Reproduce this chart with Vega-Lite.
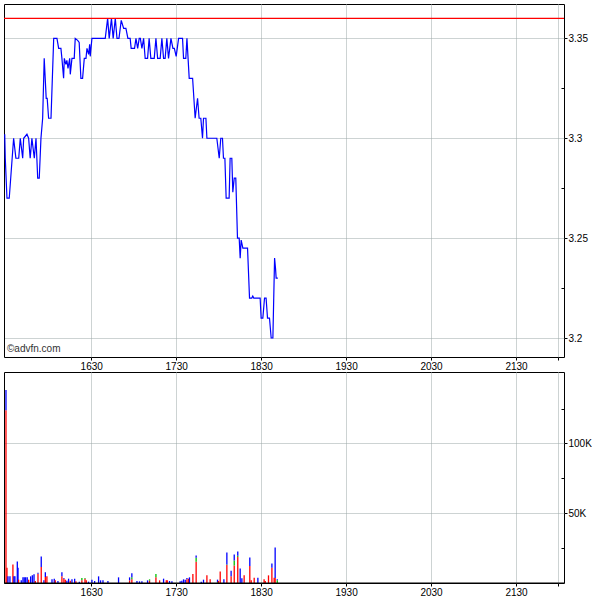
{
  "$schema": "https://vega.github.io/schema/vega-lite/v6.json",
  "background": "white",
  "padding": {"left": 2, "top": 3, "right": 0, "bottom": 0},
  "bounds": "flush",
  "spacing": 15,
  "config": {
    "font": "Liberation Sans",
    "view": {"stroke": "black", "strokeWidth": 1},
    "axis": {
      "labelFont": "Liberation Sans",
      "labelFontSize": 10,
      "labelColor": "black",
      "tickColor": "black",
      "tickSize": 3,
      "labelPadding": 1,
      "domain": false,
      "gridColor": "#9aa6a6",
      "gridDash": [1, 1],
      "gridOpacity": 1,
      "title": null
    }
  },
  "datasets": {
    "price": [
      {"t": 928.9, "p": 3.302}, {"t": 929.3, "p": 3.29}, {"t": 930.5, "p": 3.27}, {"t": 932.1, "p": 3.27},
      {"t": 935.2, "p": 3.30}, {"t": 936.8, "p": 3.29}, {"t": 938.8, "p": 3.29}, {"t": 939.9, "p": 3.30},
      {"t": 941.6, "p": 3.29}, {"t": 942.3, "p": 3.30}, {"t": 944.6, "p": 3.302}, {"t": 945.8, "p": 3.30},
      {"t": 946.9, "p": 3.29}, {"t": 948.1, "p": 3.30}, {"t": 949.8, "p": 3.29}, {"t": 951.0, "p": 3.30},
      {"t": 952.2, "p": 3.28}, {"t": 953.3, "p": 3.28}, {"t": 954.5, "p": 3.30}, {"t": 955.7, "p": 3.31},
      {"t": 956.8, "p": 3.34}, {"t": 958.2, "p": 3.32}, {"t": 958.9, "p": 3.32}, {"t": 959.9, "p": 3.31},
      {"t": 961.6, "p": 3.31}, {"t": 963.5, "p": 3.35}, {"t": 965.8, "p": 3.35}, {"t": 967.0, "p": 3.345},
      {"t": 968.6, "p": 3.345}, {"t": 969.3, "p": 3.34}, {"t": 970.5, "p": 3.33}, {"t": 971.0, "p": 3.34},
      {"t": 972.1, "p": 3.337}, {"t": 972.8, "p": 3.339}, {"t": 973.6, "p": 3.335}, {"t": 974.8, "p": 3.34},
      {"t": 975.2, "p": 3.332}, {"t": 976.4, "p": 3.34}, {"t": 978.0, "p": 3.34}, {"t": 978.7, "p": 3.35},
      {"t": 980.4, "p": 3.349}, {"t": 981.5, "p": 3.348}, {"t": 982.7, "p": 3.33}, {"t": 983.9, "p": 3.33},
      {"t": 985.1, "p": 3.34}, {"t": 986.3, "p": 3.34}, {"t": 987.0, "p": 3.345}, {"t": 988.2, "p": 3.342},
      {"t": 988.9, "p": 3.347}, {"t": 989.3, "p": 3.341}, {"t": 990.5, "p": 3.35}, {"t": 999.9, "p": 3.35},
      {"t": 1001.6, "p": 3.36}, {"t": 1002.7, "p": 3.35}, {"t": 1004.3, "p": 3.36}, {"t": 1005.5, "p": 3.35},
      {"t": 1007.0, "p": 3.36}, {"t": 1008.2, "p": 3.35}, {"t": 1009.6, "p": 3.35}, {"t": 1011.2, "p": 3.359},
      {"t": 1012.9, "p": 3.355}, {"t": 1014.5, "p": 3.355}, {"t": 1015.9, "p": 3.35}, {"t": 1017.5, "p": 3.35},
      {"t": 1018.2, "p": 3.345}, {"t": 1020.6, "p": 3.345}, {"t": 1021.6, "p": 3.35}, {"t": 1022.8, "p": 3.345},
      {"t": 1023.9, "p": 3.35}, {"t": 1024.7, "p": 3.35}, {"t": 1025.8, "p": 3.345}, {"t": 1027.0, "p": 3.35},
      {"t": 1028.1, "p": 3.34}, {"t": 1029.8, "p": 3.34}, {"t": 1030.9, "p": 3.35}, {"t": 1032.1, "p": 3.34},
      {"t": 1034.5, "p": 3.34}, {"t": 1035.7, "p": 3.35}, {"t": 1036.9, "p": 3.34}, {"t": 1038.7, "p": 3.34},
      {"t": 1039.9, "p": 3.35}, {"t": 1041.1, "p": 3.34}, {"t": 1042.2, "p": 3.34}, {"t": 1043.4, "p": 3.35},
      {"t": 1044.6, "p": 3.34}, {"t": 1046.3, "p": 3.35}, {"t": 1047.7, "p": 3.345}, {"t": 1048.7, "p": 3.345},
      {"t": 1050.0, "p": 3.341}, {"t": 1051.7, "p": 3.35}, {"t": 1054.5, "p": 3.35}, {"t": 1055.2, "p": 3.34},
      {"t": 1056.8, "p": 3.34}, {"t": 1057.6, "p": 3.35}, {"t": 1059.2, "p": 3.33}, {"t": 1061.6, "p": 3.33},
      {"t": 1063.4, "p": 3.31}, {"t": 1065.1, "p": 3.32}, {"t": 1066.2, "p": 3.31}, {"t": 1067.4, "p": 3.31},
      {"t": 1068.6, "p": 3.30}, {"t": 1069.3, "p": 3.31}, {"t": 1071.0, "p": 3.31}, {"t": 1071.7, "p": 3.30},
      {"t": 1078.7, "p": 3.30}, {"t": 1080.4, "p": 3.29}, {"t": 1081.5, "p": 3.30}, {"t": 1082.7, "p": 3.30},
      {"t": 1083.4, "p": 3.29}, {"t": 1084.4, "p": 3.29}, {"t": 1085.3, "p": 3.27}, {"t": 1087.4, "p": 3.27},
      {"t": 1088.1, "p": 3.29}, {"t": 1089.3, "p": 3.29}, {"t": 1090.0, "p": 3.273}, {"t": 1091.0, "p": 3.28},
      {"t": 1092.1, "p": 3.28}, {"t": 1093.3, "p": 3.25}, {"t": 1094.5, "p": 3.25}, {"t": 1095.2, "p": 3.24},
      {"t": 1095.9, "p": 3.249}, {"t": 1097.1, "p": 3.245}, {"t": 1100.4, "p": 3.245}, {"t": 1101.8, "p": 3.22},
      {"t": 1103.4, "p": 3.22}, {"t": 1104.1, "p": 3.221}, {"t": 1104.8, "p": 3.22}, {"t": 1109.3, "p": 3.22},
      {"t": 1110.0, "p": 3.21}, {"t": 1111.2, "p": 3.21}, {"t": 1112.4, "p": 3.22}, {"t": 1113.5, "p": 3.22},
      {"t": 1114.5, "p": 3.21}, {"t": 1115.9, "p": 3.21}, {"t": 1117.1, "p": 3.20}, {"t": 1118.3, "p": 3.20},
      {"t": 1119.5, "p": 3.24}, {"t": 1120.2, "p": 3.2345}, {"t": 1120.6, "p": 3.23}, {"t": 1121.8, "p": 3.23}
    ],
    "volume": [
      {"t": 929.8, "dir": "sell", "v": 123800}, {"t": 929.8, "dir": "buy", "v": 14500},
      {"t": 930.5, "dir": "sell", "v": 10950},
      {"t": 931.2, "dir": "buy", "v": 4760},
      {"t": 932.6, "dir": "buy", "v": 4760},
      {"t": 934.7, "dir": "sell", "v": 13330},
      {"t": 935.4, "dir": "buy", "v": 4760},
      {"t": 936.1, "dir": "buy", "v": 4760},
      {"t": 937.8, "dir": "buy", "v": 15480},
      {"t": 938.3, "dir": "buy", "v": 10950},
      {"t": 938.7, "dir": "sell", "v": 2380},
      {"t": 940.6, "dir": "buy", "v": 1900},
      {"t": 941.8, "dir": "buy", "v": 4050},
      {"t": 942.7, "dir": "buy", "v": 4050},
      {"t": 943.7, "dir": "buy", "v": 4050},
      {"t": 944.8, "dir": "buy", "v": 4050},
      {"t": 945.8, "dir": "sell", "v": 2380},
      {"t": 947.2, "dir": "buy", "v": 4760},
      {"t": 948.4, "dir": "buy", "v": 5480},
      {"t": 949.6, "dir": "buy", "v": 6190},
      {"t": 950.5, "dir": "sell", "v": 1430},
      {"t": 952.4, "dir": "sell", "v": 6670}, {"t": 952.4, "dir": "buy", "v": 710},
      {"t": 954.7, "dir": "sell", "v": 11430}, {"t": 954.7, "dir": "buy", "v": 7620},
      {"t": 956.6, "dir": "buy", "v": 1900},
      {"t": 957.6, "dir": "sell", "v": 4290}, {"t": 957.6, "dir": "buy", "v": 3330},
      {"t": 958.7, "dir": "sell", "v": 4760},
      {"t": 962.3, "dir": "buy", "v": 2620},
      {"t": 963.9, "dir": "buy", "v": 3100},
      {"t": 964.6, "dir": "sell", "v": 1900},
      {"t": 966.5, "dir": "buy", "v": 1430},
      {"t": 969.3, "dir": "sell", "v": 4760}, {"t": 969.3, "dir": "buy", "v": 2860},
      {"t": 970.7, "dir": "sell", "v": 3100}, {"t": 970.7, "dir": "buy", "v": 480},
      {"t": 971.7, "dir": "sell", "v": 2380},
      {"t": 972.8, "dir": "buy", "v": 1670},
      {"t": 974.0, "dir": "buy", "v": 3100},
      {"t": 975.2, "dir": "sell", "v": 1670},
      {"t": 976.4, "dir": "buy", "v": 2620},
      {"t": 978.3, "dir": "buy", "v": 3100},
      {"t": 979.2, "dir": "sell", "v": 1190},
      {"t": 981.6, "dir": "buy", "v": 950},
      {"t": 983.4, "dir": "sell", "v": 1900}, {"t": 983.4, "dir": "neutral", "v": 1670},
      {"t": 985.6, "dir": "sell", "v": 3100}, {"t": 985.6, "dir": "neutral", "v": 500},
      {"t": 986.5, "dir": "sell", "v": 1900},
      {"t": 988.1, "dir": "buy", "v": 950},
      {"t": 990.5, "dir": "buy", "v": 2380},
      {"t": 992.4, "dir": "buy", "v": 1430},
      {"t": 995.2, "dir": "buy", "v": 4760},
      {"t": 996.6, "dir": "buy", "v": 1900},
      {"t": 998.3, "dir": "buy", "v": 1900},
      {"t": 1001.8, "dir": "buy", "v": 1430},
      {"t": 1009.3, "dir": "buy", "v": 4050},
      {"t": 1017.1, "dir": "sell", "v": 1900}, {"t": 1017.1, "dir": "buy", "v": 2140},
      {"t": 1018.7, "dir": "sell", "v": 2620}, {"t": 1018.7, "dir": "neutral", "v": 1430}, {"t": 1018.7, "dir": "buy", "v": 2860},
      {"t": 1022.3, "dir": "buy", "v": 1430},
      {"t": 1024.1, "dir": "buy", "v": 1190},
      {"t": 1025.8, "dir": "buy", "v": 1190},
      {"t": 1029.8, "dir": "buy", "v": 1900},
      {"t": 1031.2, "dir": "sell", "v": 1670}, {"t": 1031.2, "dir": "neutral", "v": 950},
      {"t": 1035.7, "dir": "sell", "v": 4050}, {"t": 1035.7, "dir": "neutral", "v": 2380},
      {"t": 1038.3, "dir": "sell", "v": 1900},
      {"t": 1041.1, "dir": "buy", "v": 3100},
      {"t": 1043.0, "dir": "sell", "v": 1900},
      {"t": 1043.7, "dir": "sell", "v": 1900},
      {"t": 1045.3, "dir": "buy", "v": 1430},
      {"t": 1047.0, "dir": "buy", "v": 1190},
      {"t": 1052.8, "dir": "buy", "v": 1190},
      {"t": 1054.0, "dir": "buy", "v": 1670},
      {"t": 1055.2, "dir": "buy", "v": 2620},
      {"t": 1056.4, "dir": "buy", "v": 2380},
      {"t": 1057.6, "dir": "sell", "v": 2620}, {"t": 1057.6, "dir": "buy", "v": 950},
      {"t": 1058.7, "dir": "sell", "v": 3100},
      {"t": 1059.4, "dir": "buy", "v": 4050},
      {"t": 1061.8, "dir": "sell", "v": 6430},
      {"t": 1064.1, "dir": "sell", "v": 15240}, {"t": 1064.1, "dir": "neutral", "v": 2860}, {"t": 1064.1, "dir": "buy", "v": 1670},
      {"t": 1067.7, "dir": "buy", "v": 950},
      {"t": 1069.3, "dir": "buy", "v": 2380},
      {"t": 1071.7, "dir": "sell", "v": 5480},
      {"t": 1074.0, "dir": "sell", "v": 2620},
      {"t": 1079.2, "dir": "buy", "v": 1900}, {"t": 1079.2, "dir": "neutral", "v": 500},
      {"t": 1079.9, "dir": "sell", "v": 1430},
      {"t": 1081.1, "dir": "sell", "v": 8330},
      {"t": 1083.7, "dir": "buy", "v": 2620},
      {"t": 1085.8, "dir": "sell", "v": 12860}, {"t": 1085.8, "dir": "neutral", "v": 480}, {"t": 1085.8, "dir": "buy", "v": 8570},
      {"t": 1088.8, "dir": "sell", "v": 4760}, {"t": 1088.8, "dir": "buy", "v": 4050},
      {"t": 1091.0, "dir": "sell", "v": 12620}, {"t": 1091.0, "dir": "neutral", "v": 3570}, {"t": 1091.0, "dir": "buy", "v": 4290},
      {"t": 1093.5, "dir": "sell", "v": 18570}, {"t": 1093.5, "dir": "neutral", "v": 950}, {"t": 1093.5, "dir": "buy", "v": 3100},
      {"t": 1095.2, "dir": "buy", "v": 10480},
      {"t": 1096.4, "dir": "buy", "v": 3330},
      {"t": 1098.0, "dir": "sell", "v": 5480},
      {"t": 1102.0, "dir": "sell", "v": 12140}, {"t": 1102.0, "dir": "buy", "v": 6190},
      {"t": 1103.0, "dir": "sell", "v": 1900},
      {"t": 1105.1, "dir": "sell", "v": 3810},
      {"t": 1107.7, "dir": "buy", "v": 3810},
      {"t": 1112.1, "dir": "sell", "v": 2620},
      {"t": 1112.9, "dir": "sell", "v": 1430},
      {"t": 1115.2, "dir": "sell", "v": 5480},
      {"t": 1117.6, "dir": "sell", "v": 10950}, {"t": 1117.6, "dir": "buy", "v": 3100},
      {"t": 1119.2, "dir": "sell", "v": 3810},
      {"t": 1119.9, "dir": "sell", "v": 3570}, {"t": 1119.9, "dir": "buy", "v": 21900},
      {"t": 1121.4, "dir": "neutral", "v": 1900}, {"t": 1121.4, "dir": "buy", "v": 710}
    ],
    "ref": [{"level": 3.36}],
    "mark": [{"label": "©advfn.com", "t": 930.5, "p": 3.1947}]
  },
  "vconcat": [
    {
      "width": 560,
      "height": 353,
      "resolve": {"axis": {"y": "independent"}},
      "layer": [
        {
          "data": {"name": "price"},
          "mark": {"type": "line", "color": "#0000ff", "strokeWidth": 1.2, "clip": true},
          "encoding": {
            "x": {
              "field": "t", "type": "quantitative",
              "scale": {"domain": [928.4, 1323.9], "nice": false, "zero": false, "padding": 0},
              "axis": {
                "orient": "bottom",
                "values": [990, 1050, 1110, 1170, 1230, 1290, 1320],
                "labelExpr": "datum.value == 1320 ? '' : '' + (floor(datum.value / 60) * 100 + datum.value % 60)",
                "grid": true
              }
            },
            "y": {
              "field": "p", "type": "quantitative",
              "scale": {"domain": [3.1905, 3.3672], "nice": false, "zero": false},
              "axis": {
                "orient": "right",
                "values": [3.2, 3.25, 3.3, 3.35],
                "format": ".2~f",
                "grid": true
              }
            }
          }
        },
        {
          "data": {"name": "ref"},
          "mark": {"type": "rule", "color": "#ff0000", "strokeWidth": 1.2},
          "encoding": {
            "y": {
              "field": "level", "type": "quantitative",
              "axis": {
                "orient": "right",
                "values": [3.225, 3.275, 3.325],
                "labels": false,
                "grid": false,
                "tickSize": -3
              }
            }
          }
        },
        {
          "data": {"name": "mark"},
          "mark": {"type": "text", "align": "left", "baseline": "middle", "fontSize": 10, "font": "Liberation Sans", "color": "#333333"},
          "encoding": {
            "x": {"field": "t", "type": "quantitative"},
            "y": {"field": "p", "type": "quantitative", "axis": null},
            "text": {"field": "label"}
          }
        }
      ]
    },
    {
      "width": 560,
      "height": 211,
      "resolve": {"axis": {"y": "independent"}},
      "layer": [
        {
          "data": {"name": "volume"},
          "mark": {"type": "bar", "size": 1.3},
          "encoding": {
            "x": {
              "field": "t", "type": "quantitative",
              "scale": {"domain": [928.4, 1323.9], "nice": false, "zero": false, "padding": 0},
              "axis": {
                "orient": "bottom",
                "values": [990, 1050, 1110, 1170, 1230, 1290, 1320],
                "labelExpr": "datum.value == 1320 ? '' : '' + (floor(datum.value / 60) * 100 + datum.value % 60)",
                "grid": true
              }
            },
            "y": {
              "field": "v", "type": "quantitative", "aggregate": "sum", "stack": "zero",
              "scale": {"domain": [0, 151200], "nice": false},
              "axis": {
                "orient": "right",
                "values": [50000, 100000],
                "labelExpr": "datum.value / 1000 + 'K'",
                "grid": true
              }
            },
            "color": {
              "field": "dir", "type": "nominal",
              "scale": {"domain": ["buy", "neutral", "sell"], "range": ["#0000ff", "#00c000", "#ff0000"]},
              "legend": null
            },
            "order": {"field": "dir", "sort": "descending"}
          }
        },
        {
          "data": {"values": [{"base": 0}]},
          "mark": {"type": "rule", "color": "black", "strokeWidth": 1},
          "encoding": {
            "y": {
              "field": "base", "type": "quantitative",
              "axis": {
                "orient": "right",
                "values": [25000, 75000, 125000],
                "labels": false,
                "grid": false,
                "tickSize": -3
              }
            }
          }
        }
      ]
    }
  ]
}
